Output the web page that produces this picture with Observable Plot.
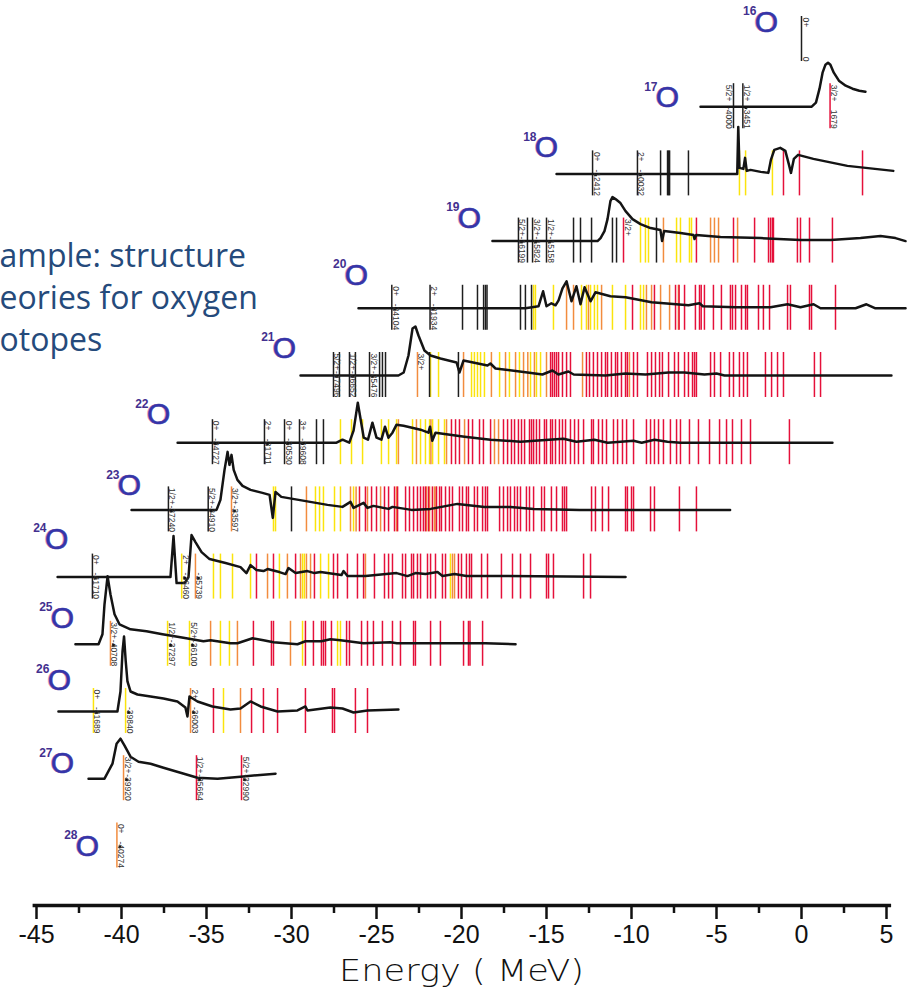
<!DOCTYPE html>
<html><head><meta charset="utf-8">
<script src="https://cdn.jsdelivr.net/npm/d3@7"></script>
<script src="https://cdn.jsdelivr.net/npm/@observablehq/plot@0.6"></script>
<style>body{margin:0;background:#fff;overflow:hidden}#chart svg{display:block}</style>
</head><body><div id="chart"></div>
<script>
// ---------- data (energies in MeV, strengths in arbitrary units) ----------
const isotopes = [16,17,18,19,20,21,22,23,24,25,26,27,28];
const isoLabelE = [-2.06,-7.88,-15.0,-19.53,-26.18,-30.41,-37.82,-39.53,-43.82,-43.47,-43.65,-43.47,-42.0];
const isoLabelS = [17,9,26,23,33,27,28,24,38,26,31,15,0];
const xTicks = [-45,-40,-35,-30,-25,-20,-15,-10,-5,0,5];
const xMinorTicks = [-42.5,-37.5,-32.5,-27.5,-22.5,-17.5,-12.5,-7.5,-2.5,2.5];
const textLines = ["ample: structure","eories for oxygen","otopes"];

const O16_black = [0];
const O17_black = [-4.0,-3.45];
const O17_red = [1.68];
const O18_black = [-12.29,-9.65,-8.29,-7.88,-7.82,-7.76,-6.65];
const O18_yellow = [-3.65,-3.29,-1.71];
const O18_red = [-1.06,-0.12,3.59];
const O19_black = [-16.65,-16.12,-15.82,-15.0,-13.41,-13.0,-12.35,-11.12,-10.88,-8.53];
const O19_yellow = [-9.47,-9.18,-9.0,-7.35,-7.12,-6.59,-6.47];
const O19_orange = [-8.12,-5.35,-5.12,-4.88,-3.76];
const O19_red = [-10.47,-6.18,-4.0,-2.76,-1.94,-1.82,-1.71,-1.65,-0.24,-0.06,0.47,1.82];
const O20_black = [-24.1,-21.85,-19.94,-19.06,-18.7,-18.59,-18.5,-16.53,-16.24,-15.88];
const O20_yellow = [-15.76,-15.65,-14.59,-12.94,-12.65,-12.41,-12.18,-12.0,-11.12,-10.35,-9.47,-9.29];
const O20_orange = [-13.82,-13.41,-12.53,-11.76,-9.12,-8.82,-8.29,-7.76,-7.24];
const O20_red = [-9.94,-8.65,-7.41,-7.2,-6.88,-6.24,-6.0,-5.9,-5.71,-5.18,-4.71,-4.18,-4.06,-3.88,-3.53,-3.29,-3.18,-2.53,-2.24,-1.88,-0.82,-0.65,0.47,0.59,2.0];
const O21_black = [-27.53,-27.18,-26.59,-26.24,-25.41,-24.82,-24.65,-24.47,-21.88,-20.18];
const O21_yellow = [-21.82,-21.35,-19.41,-19.24,-19.06,-18.88,-18.65,-17.76,-17.18,-16.59,-15.94,-15.59,-15.35];
const O21_orange = [-22.59,-19.88,-18.24,-17.41,-16.82,-16.35,-16.1,-15.71,-15.0,-12.88,-10.12];
const O21_red = [-14.76,-14.65,-14.53,-14.41,-14.29,-14.06,-13.82,-13.59,-12.65,-12.47,-12.24,-12.0,-11.76,-11.53,-11.41,-11.18,-10.94,-10.82,-10.59,-10.35,-10.24,-9.88,-9.65,-9.06,-8.82,-8.59,-8.35,-8.18,-7.82,-7.47,-7.24,-6.88,-6.65,-6.41,-6.29,-6.18,-5.35,-5.12,-4.76,-4.24,-4.0,-3.65,-3.41,-3.18,-2.12,-1.76,-1.41,-1.06,0.76,1.12];
const O22_black = [-34.65,-31.59,-30.41,-29.53,-28.53,-28.12];
const O22_yellow = [-27.12,-26.47,-25.82,-24.71,-24.29,-23.82,-22.88,-22.41,-22.12,-21.88,-21.7,-21.35,-21.0];
const O22_orange = [-23.71,-22.65,-21.8,-20.88,-19.82,-18.06,-17.82];
const O22_red = [-20.59,-20.35,-20.12,-19.59,-19.35,-18.94,-18.71,-18.29,-17.53,-17.29,-17.06,-16.88,-16.65,-16.47,-16.29,-16.0,-15.88,-15.76,-15.59,-15.41,-15.12,-15.0,-14.76,-14.65,-14.47,-14.24,-14.06,-13.88,-13.59,-13.35,-13.12,-12.82,-12.35,-12.24,-11.94,-11.71,-11.47,-11.06,-10.82,-10.53,-10.29,-9.88,-9.12,-8.88,-8.65,-8.41,-8.12,-7.71,-7.35,-7.12,-6.59,-6.06,-5.41,-4.82,-4.41,-4.06,-3.53,-3.0,-0.71];
const O23_black = [-37.24,-34.9,-30.0];
const O23_yellow = [-31.06,-30.94,-28.59,-28.35,-28.12,-27.47,-27.12,-26.35];
const O23_orange = [-33.53,-29.12,-26.53,-26.2,-25.53,-24.76,-23.82,-22.06,-21.88,-21.59,-21.5];
const O23_red = [-26.0,-25.65,-25.29,-25.0,-24.53,-24.29,-23.94,-23.76,-23.29,-23.06,-22.82,-22.59,-22.41,-22.24,-22.12,-21.94,-21.71,-21.47,-21.29,-21.18,-20.94,-20.71,-20.53,-20.12,-19.94,-19.71,-19.59,-19.24,-19.06,-18.76,-18.59,-18.47,-17.76,-17.53,-17.29,-17.12,-16.88,-16.71,-16.53,-16.18,-16.0,-15.76,-15.29,-15.12,-14.71,-14.41,-14.06,-13.94,-13.82,-12.35,-12.12,-11.71,-11.35,-10.35,-10.24,-10.0,-9.88,-8.88,-8.65,-7.18,-6.18];
const O24_black = [-41.71];
const O24_yellow = [-36.46,-34.59,-34.18,-33.47,-32.41,-30.71,-29.35,-29.24,-28.29,-27.82,-20.65];
const O24_orange = [-35.65,-31.41,-30.24,-29.47,-29.12,-28.88,-25.65,-20.53,-20.41];
const O24_red = [-32.06,-31.06,-29.76,-28.65,-27.53,-27.29,-26.71,-26.12,-25.76,-25.12,-24.53,-24.29,-24.06,-23.47,-23.29,-22.94,-22.82,-22.59,-22.41,-22.0,-21.82,-21.53,-21.12,-20.94,-20.18,-20.0,-19.71,-19.53,-19.41,-18.82,-18.47,-17.65,-17.0,-16.53,-15.94,-15.0,-14.88,-14.59,-12.82,-12.41];
const O25_yellow = [-37.29,-36.0,-34.18,-33.65,-29.35,-27.29,-27.12];
const O25_orange = [-40.65,-34.76,-33.18,-30.06];
const O25_red = [-32.24,-31.18,-31.06,-29.18,-28.71,-28.24,-28.12,-28.0,-27.65,-26.76,-26.59,-25.88,-25.53,-25.18,-24.65,-24.06,-23.59,-22.82,-22.71,-21.82,-21.24,-19.88,-19.59,-19.5,-18.76];
const O26_yellow = [-41.65,-39.76,-34.0];
const O26_orange = [-35.94,-33.0];
const O26_red = [-34.59,-32.35,-31.65,-30.82,-29.18,-27.59,-27.47,-26.24,-25.53];
const O27_orange = [-39.88];
const O27_red = [-35.59,-32.94];
const O28_orange = [-40.27];

const curve17 = [[-5.94,0],[0.6,0],[0.85,4],[1.06,18],[1.24,34],[1.41,42],[1.56,44],[1.7,42],[1.9,34],[2.2,26],[2.6,21],[3.0,18],[3.4,16],[3.76,15]];
const curve18 = [[-14.41,0],[-3.78,0],[-3.72,47],[-3.65,6],[-3.42,5],[-3.32,16],[-3.22,3],[-3.0,4],[-2.4,2],[-1.95,1],[-1.8,14],[-1.6,24],[-1.25,26],[-0.95,23],[-0.72,8],[-0.62,1],[-0.45,15],[-0.2,19],[0.7,15],[2.7,8],[5.4,3]];
const curve19 = [[-18.18,0],[-12.0,0],[-11.82,3],[-11.59,10],[-11.41,22],[-11.24,40],[-11.12,44],[-10.94,42],[-10.65,38],[-10.35,30],[-9.94,22],[-9.47,17],[-8.88,13],[-8.3,11],[-8.2,0],[-8.08,10],[-7.12,8],[-6.35,6],[-6.29,2],[-6.2,6],[-4.76,4],[-2.41,3],[-0.06,1],[1.71,1],[3.47,3],[4.65,5],[5.53,3],[6.12,0]];
const curve20 = [[-26.06,0],[-16.24,0],[-15.47,2],[-15.2,17],[-15.0,2],[-14.71,5],[-14.47,3],[-14.29,8],[-14.06,20],[-13.82,27],[-13.53,7],[-13.24,22],[-13.0,4],[-12.76,21],[-12.41,7],[-12.12,16],[-11.24,12],[-10.35,11],[-8.82,6],[-6.65,3],[-6.0,5],[-5.8,2],[-3.88,1],[-1.82,1],[-0.82,4],[-0.06,1],[0.71,4],[1.12,0],[3.18,0],[3.82,4],[4.35,0],[6.12,0]];
const curve21 = [[-29.47,0],[-23.71,0],[-23.4,3],[-23.12,20],[-22.88,47],[-22.71,49],[-22.53,40],[-22.18,25],[-21.82,20],[-21.24,17],[-20.29,13],[-20.12,3],[-19.88,15],[-18.47,10],[-18.3,12],[-18.0,7],[-16.12,3],[-15.24,1],[-14.65,5],[-14.3,1],[-13.71,4],[-13.4,1],[-11.53,0],[-10.35,2],[-9.18,1],[-7.82,3],[-6.88,3],[-5.71,1],[-5.0,2],[-4.53,0],[5.29,0]];
const curve22 = [[-36.7,0],[-27.35,0],[-27.0,3],[-26.6,0],[-26.35,12],[-26.1,40],[-25.95,25],[-25.75,5],[-25.5,3],[-25.24,20],[-25.0,5],[-24.71,3],[-24.5,16],[-24.3,5],[-24.06,10],[-23.82,18],[-23.41,17],[-22.41,13],[-21.95,10],[-21.85,16],[-21.72,2],[-21.53,10],[-19.82,6],[-18.29,3],[-16.53,1],[-14.0,4],[-13.24,1],[-12.18,3],[-11.4,0],[-9.88,2],[-9.4,0],[-8.65,3],[-7.88,1],[-7.12,0],[1.82,0]];
const curve23 = [[-39.41,0],[-34.41,0],[-34.18,10],[-33.94,40],[-33.76,58],[-33.65,45],[-33.53,55],[-33.4,40],[-33.18,30],[-32.88,24],[-32.41,20],[-31.71,17],[-31.29,15],[-31.1,-8],[-30.94,18],[-30.6,13],[-29.24,9],[-27.88,5],[-27.0,3],[-26.53,8],[-26.35,2],[-25.76,7],[-25.53,2],[-25.18,4],[-24.29,1],[-24.06,3],[-22.94,0],[-21.82,1],[-20.24,6],[-18.65,3],[-17.12,3],[-15.76,1],[-13.06,0],[-4.2,0]];
const curve24 = [[-43.76,0],[-37.12,0],[-36.94,41],[-36.76,-6],[-36.29,-6],[-36.06,0],[-35.88,42],[-35.65,35],[-35.29,25],[-34.82,18],[-33.88,14],[-33.0,10],[-32.65,4],[-32.41,12],[-32.06,7],[-31.65,6],[-31.41,8],[-30.71,5],[-30.35,3],[-30.18,9],[-29.76,4],[-29.06,6],[-28.65,4],[-28.29,5],[-27.06,2],[-26.94,6],[-26.71,1],[-25.65,1],[-23.82,4],[-23.18,1],[-22.71,4],[-22.12,3],[-21.41,5],[-21.12,1],[-20.41,3],[-19.71,1],[-17.41,1],[-10.35,0]];
const curve25 = [[-42.71,0],[-41.35,0],[-41.12,10],[-41.0,40],[-40.82,68],[-40.65,50],[-40.41,30],[-40.12,20],[-39.47,15],[-38.53,13],[-37.59,10],[-36.53,7],[-35.18,3],[-34.76,4],[-33.59,1],[-33.18,1],[-32.29,6],[-31.65,4],[-31.06,2],[-29.65,0],[-29.18,3],[-28.24,3],[-27.71,5],[-27.12,4],[-25.76,1],[-24.18,2],[-23.8,1],[-18.59,1],[-16.82,0]];
const curve26 = [[-43.71,0],[-40.24,0],[-40.06,20],[-39.94,60],[-39.85,75],[-39.75,50],[-39.65,30],[-39.47,20],[-39.06,17],[-38.29,15],[-37.53,13],[-36.71,10],[-36.24,4],[-36.12,-5],[-36.0,15],[-35.53,10],[-34.65,5],[-33.59,2],[-33.0,3],[-32.41,10],[-31.82,5],[-30.82,0],[-29.65,1],[-29.18,5],[-29.06,1],[-27.71,4],[-27.0,3],[-26.35,-1],[-25.53,1],[-23.71,2]];
const curve27 = [[-41.94,0],[-41.0,0],[-40.53,15],[-40.29,35],[-40.06,40],[-39.82,33],[-39.47,22],[-39.0,17],[-38.29,15],[-37.53,11],[-36.53,6],[-35.53,1],[-34.35,0],[-33.0,2],[-30.94,5]];

// [isotope, energy, J^pi, energy label (keV), side]
const levelLabels = [
 [16,0,"0+","0",1],[17,-4.0,"5/2+","-4000",-1],[17,-3.45,"1/2+","-3451",1],[17,1.68,"3/2+","1679",1],
 [18,-12.29,"0+","-12412",1],[18,-9.65,"2+","-10032",1],
 [19,-16.65,"5/2+","-16199",1],[19,-15.82,"3/2+","-15824",1],[19,-15.0,"1/2+","-15158",1],[19,-10.47,"3/2+","",1],
 [20,-24.1,"0+","-24104",1],[20,-21.85,"2+","-21934",1],
 [21,-27.53,"5/2+","-27496",1],[21,-26.59,"1/2+","-26652",1],[21,-25.41,"3/2+","-25476",1],[21,-22.59,"3/2+","",1],
 [22,-34.65,"0+","-34727",1],[22,-31.59,"2+","-31711",1],[22,-30.41,"0+","-30530",1],[22,-29.53,"3+","-29608",1],
 [23,-37.24,"1/2+","-37240",1],[23,-34.9,"5/2+","-34910",1],[23,-33.53,"3/2+","-33597",1],
 [24,-41.71,"0+","-41710",1],[24,-36.46,"2+","-36460",1],[24,-35.65,"","-35739",1],
 [25,-40.65,"3/2+","-40708",1],[25,-37.29,"1/2+","-37297",1],[25,-36.0,"5/2+","-36100",1],
 [26,-41.65,"0+","-41689",1],[26,-39.76,"","-39840",1],[26,-35.94,"2+","-36003",1],
 [27,-39.88,"3/2+","-39920",1],[27,-35.59,"1/2+","-35664",1],[27,-32.94,"5/2+","-32990",1],
 [28,-40.27,"0+","-40274",1]
];

const levelSets = [
 [16,"black",O16_black],[17,"black",O17_black],[17,"red",O17_red],
 [18,"black",O18_black],[18,"yellow",O18_yellow],[18,"red",O18_red],
 [19,"black",O19_black],[19,"yellow",O19_yellow],[19,"orange",O19_orange],[19,"red",O19_red],
 [20,"black",O20_black],[20,"yellow",O20_yellow],[20,"orange",O20_orange],[20,"red",O20_red],
 [21,"black",O21_black],[21,"yellow",O21_yellow],[21,"orange",O21_orange],[21,"red",O21_red],
 [22,"black",O22_black],[22,"yellow",O22_yellow],[22,"orange",O22_orange],[22,"red",O22_red],
 [23,"black",O23_black],[23,"yellow",O23_yellow],[23,"orange",O23_orange],[23,"red",O23_red],
 [24,"black",O24_black],[24,"yellow",O24_yellow],[24,"orange",O24_orange],[24,"red",O24_red],
 [25,"yellow",O25_yellow],[25,"orange",O25_orange],[25,"red",O25_red],
 [26,"yellow",O26_yellow],[26,"orange",O26_orange],[26,"red",O26_red],
 [27,"orange",O27_orange],[27,"red",O27_red],[28,"orange",O28_orange]
];
const curveSets = [[17,curve17],[18,curve18],[19,curve19],[20,curve20],[21,curve21],[22,curve22],[23,curve23],[24,curve24],[25,curve25],[26,curve26],[27,curve27]];

// ---------- build ----------
const ROW = 67.2;            // strength units per row spacing
const yAt = (A, s) => A - s / ROW;
const yDomain = [15.42, 28.887];
const colors = {black:"#1e1e1e", yellow:"#fbe40c", orange:"#f28c3e", red:"#e5103a"};

const levels = levelSets.flatMap(([A,c,arr]) => arr.map(E => ({A,E,c})));
const curvePts = curveSets.flatMap(([A,pts]) => pts.map(([E,s]) => ({A,E,s})));
const labels = levelLabels.map(([A,E,jp,val,side]) => ({A,E,jp,val,side}));
const isoLab = isotopes.map((A,i) => ({A, E: isoLabelE[i], s: isoLabelS[i]}));

const lineMark = c => Plot.ruleX(levels.filter(d => d.c === c), {
  x: "E", y1: d => yAt(d.A, 23), y2: d => yAt(d.A, -22),
  stroke: colors[c], strokeWidth: 1.5
});
const lblFont = {fontFamily: "Liberation Sans, Arial, sans-serif", fontSize: 8.5, fill: "#333", rotate: 90};
const valLabels = labels.filter(d => d.val.startsWith("-") && d.side > 0);

const plot = Plot.plot({
  width: 908, height: 991,
  marginTop: 0, marginBottom: 86, marginLeft: 36, marginRight: 22,
  x: {domain: [-45, 5]},
  y: {domain: yDomain, range: [0, 905], axis: null},
  style: {background: "#fff", overflow: "visible"},
  marks: [
    lineMark("yellow"), lineMark("orange"), lineMark("red"), lineMark("black"),
    Plot.line(curvePts, {x: "E", y: d => yAt(d.A, d.s), z: "A", stroke: "#141414", strokeWidth: 2.5, strokeLinejoin: "round", strokeLinecap: "round"}),
    // small markers where labelled levels cross the baseline
    Plot.dot(valLabels, {x: "E", y: d => yAt(d.A, -1), symbol: "square", r: 1.5, fill: "#111", dx: 3}),
    // J^pi labels (top) and energy labels (bottom)
    Plot.text(labels.filter(d => d.side > 0), {...lblFont, x: "E", y: d => yAt(d.A, 22), text: "jp", textAnchor: "start", lineAnchor: "bottom", dx: 1}),
    Plot.text(labels.filter(d => d.side > 0), {...lblFont, x: "E", y: d => yAt(d.A, -22), text: "val", textAnchor: "end", lineAnchor: "bottom", dx: 1}),
    Plot.text(labels.filter(d => d.side < 0), {...lblFont, x: "E", y: d => yAt(d.A, 22), text: "jp", textAnchor: "start", lineAnchor: "top", dx: -1}),
    Plot.text(labels.filter(d => d.side < 0), {...lblFont, x: "E", y: d => yAt(d.A, -22), text: "val", textAnchor: "end", lineAnchor: "top", dx: -1}),
    // isotope labels
    Plot.text(isoLab, {x: "E", y: d => yAt(d.A, d.s), text: () => "O", fontFamily: "Liberation Sans, Arial, sans-serif", fontSize: 30, fill: "#d2426e", fillOpacity: 0.5, textAnchor: "middle", lineAnchor: "middle", dx: -1.2}),
    Plot.text(isoLab, {x: "E", y: d => yAt(d.A, d.s), text: () => "O", fontFamily: "Liberation Sans, Arial, sans-serif", fontSize: 30, fill: "#3535a8", stroke: "#3535a8", strokeWidth: 0.6, textAnchor: "middle", lineAnchor: "middle"}),
    Plot.text(isoLab, {x: "E", y: d => yAt(d.A, d.s), text: d => String(d.A), fontFamily: "Liberation Sans, Arial, sans-serif", fontSize: 12, fontWeight: "bold", fill: "#43308f", textAnchor: "end", lineAnchor: "middle", dx: -10, dy: -11}),
    // axis
    Plot.ruleY([yDomain[1]], {x1: -45.2, x2: 5.3, strokeWidth: 3.5, stroke: "#111"}),
    Plot.axisX({ticks: xTicks, tickSize: 14, tickPadding: 6, strokeWidth: 2.5, stroke: "#111", tickFormat: d => String(d), fontSize: 25, fontFamily: "Liberation Sans, Arial, sans-serif", fill: "#111", label: null}),
    Plot.axisX({ticks: xMinorTicks, tickSize: 8, strokeWidth: 2.5, stroke: "#111", tickFormat: () => "", label: null}),
    Plot.text(["Energy ( MeV)"], {frameAnchor: "bottom", dy: 66, fontFamily: "DejaVu Sans, sans-serif", fontWeight: 300, fontSize: 30, fill: "#111", lineAnchor: "middle", className: "xtitle"}),
    // partial slide text
    Plot.text([textLines.join("\n")], {frameAnchor: "top-left", dx: -37, dy: 237, fontFamily: "Open Sans, sans-serif", fontSize: 32, lineHeight: 1.31, fill: "#254a7b", textAnchor: "start", lineAnchor: "top"})
  ]
});
document.getElementById("chart").append(plot);
const t = plot.querySelector(".xtitle text");
if (t) { t.setAttribute("textLength", 245); t.setAttribute("lengthAdjust", "spacingAndGlyphs"); }
</script></body></html>
